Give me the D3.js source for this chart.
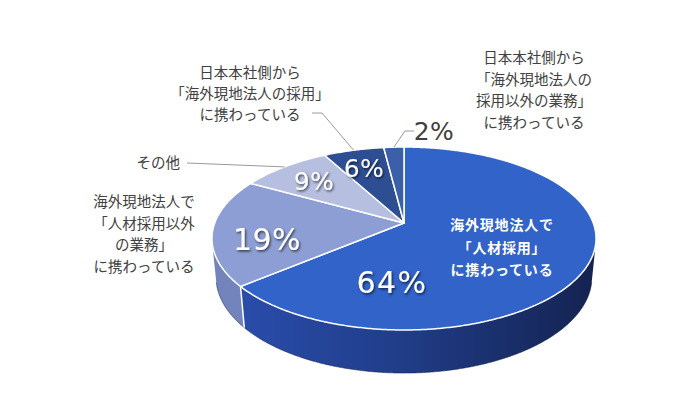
<!DOCTYPE html>
<html>
<head>
<meta charset="utf-8">
<script src="https://cdn.jsdelivr.net/npm/d3@7"></script>
<style>
  body { margin: 0; background: #fff; }
  svg { display: block; }
  .jp { font-family: "Noto Sans CJK JP", sans-serif; font-size: 14.5px; fill: #404040; }
  .pct { font-family: "DejaVu Sans", sans-serif; }
</style>
</head>
<body>
<div id="chart"></div>
<script>
// Data
const categories = [
  "海外現地法人で「人材採用」に携わっている",
  "海外現地法人で「人材採用以外の業務」に携わっている",
  "その他",
  "日本本社側から「海外現地法人の採用」に携わっている",
  "日本本社側から「海外現地法人の採用以外の業務」に携わっている"
];
const values = [64, 19, 9, 6, 2];
const pctLabels = ["64%", "19%", "9%", "6%", "2%"];

// Styles
const topColors = ["#3163c8", "#8c9ed3", "#b6bfdf", "#2d4e93", "#3b60a9"];
const sideColors = ["url(#side64)", "#7383bb", "#9aa5cc", "#22396e", "#2b4a85"];

const width = 700, height = 398;

// Perspective projection of the tilted pie
const cx = 404, cy = 223, f = 986, D = 5.21, h = 0.233;
const tilt = 28 * Math.PI / 180, s = Math.sin(tilt), c = Math.cos(tilt);
function proj(theta, r, depth) {
  const X = r * Math.sin(theta), Z = -r * Math.cos(theta), Y = -depth * h;
  const yc = Z * s - Y * c;
  const d = D - (Z * c + Y * s);
  return [cx + f * X / d, cy + f * yc / d];
}
// Wall faces the camera where cos(theta) < -1/(D*c)
const visLo = Math.acos(-1 / (D * c)), visHi = 2 * Math.PI - visLo;

function arcPts(a0, a1, depth) {
  const step = Math.PI / 360;
  const pts = d3.range(a0, a1, step).concat([a1]);
  return pts.map(t => proj(t, 1, depth));
}

const svg = d3.select("#chart").append("svg")
  .attr("width", width).attr("height", height);

const defs = svg.append("defs");
const g64 = defs.append("linearGradient").attr("id", "side64")
  .attr("gradientUnits", "userSpaceOnUse")
  .attr("x1", 240).attr("x2", 598).attr("y1", 0).attr("y2", 0);
g64.append("stop").attr("offset", 0).attr("stop-color", "#2a4cab");
g64.append("stop").attr("offset", 0.45).attr("stop-color", "#203d88");
g64.append("stop").attr("offset", 1).attr("stop-color", "#142250");

const shadow = defs.append("filter").attr("id", "shadow")
  .attr("x", "-20%").attr("y", "-20%").attr("width", "140%").attr("height", "140%");
shadow.append("feDropShadow").attr("dx", 1.2).attr("dy", 1.5)
  .attr("stdDeviation", 1).attr("flood-color", "#000").attr("flood-opacity", 0.65);

const pie = d3.pie().sort(null).value(d => d)(values);
const line = d3.line();

// Side walls
pie.forEach((p, i) => {
  const a0 = Math.max(p.startAngle, visLo), a1 = Math.min(p.endAngle, visHi);
  if (a1 <= a0) return;
  const pts = arcPts(a0, a1, 0).concat(arcPts(a0, a1, 1).reverse());
  svg.append("path")
    .attr("d", line(pts) + "Z")
    .attr("fill", sideColors[i]);
  svg.append("path")
    .attr("d", line(arcPts(a0, a1, 1)))
    .attr("fill", "none").attr("stroke", "#101a3e").attr("stroke-width", 1).attr("opacity", 0.5);
});
// Vertical white seams where slice borders cross the visible wall
pie.forEach(p => {
  const a = p.endAngle;
  if (a > visLo && a < visHi) {
    svg.append("path")
      .attr("d", line([proj(a, 1, 0), proj(a, 1, 1)]))
      .attr("stroke", "#fff").attr("stroke-width", 1.5).attr("fill", "none");
  }
});

// Top faces
pie.forEach((p, i) => {
  const pts = [proj(0, 0, 0)].concat(arcPts(p.startAngle, p.endAngle, 0));
  svg.append("path")
    .attr("d", line(pts) + "Z")
    .attr("fill", topColors[i])
    .attr("stroke", "#fff").attr("stroke-width", 1.5)
    .attr("stroke-linejoin", "round");
});

// Percent labels
const pctPos = [[392, 293, 30], [267, 250, 30], [314, 190, 25], [364, 177, 25], [434, 140, 25]];
pie.forEach((p, i) => {
  const [x, y, fs] = pctPos[i];
  const t = svg.append("text").attr("class", "pct")
    .attr("x", x).attr("y", y)
    .attr("text-anchor", "middle")
    .attr("font-size", fs)
    .attr("letter-spacing", i === 0 ? 1.5 : 0.5)
    .text(pctLabels[i]);
  if (i === 4) t.attr("fill", "#404040");
  else t.attr("fill", "#fff").attr("filter", "url(#shadow)");
});

// Leader lines from the rim of the slice middle
const leaders = [
  { i: 2, pts: [[187, 163]] },
  { i: 3, pts: [[322, 113], [312, 113]] },
  { i: 4, pts: [[405, 131], [414, 131]] }
];
leaders.forEach(l => {
  const p = pie[l.i];
  const mid = (p.startAngle + p.endAngle) / 2;
  svg.append("path")
    .attr("d", line([proj(mid, 1, 0)].concat(l.pts)))
    .attr("fill", "none").attr("stroke", "#9a9a9a").attr("stroke-width", 1);
});

// Category labels
function block(lines, x, y0, dy, anchor, cls) {
  const t = svg.append("text").attr("class", cls || "jp").attr("text-anchor", anchor);
  lines.forEach((ln, k) => {
    t.append("tspan").attr("x", x).attr("y", y0 + k * dy).text(ln);
  });
  return t;
}
block(["海外現地法人で", "「人材採用」", "に携わっている"], 502, 230, 22.5, "middle", "jp")
  .attr("fill", "#fff").style("fill", "#fff").attr("font-weight", "bold")
  .attr("font-size", 14).style("font-size", "14px").attr("letter-spacing", 0.8);
block(["海外現地法人で", "「人材採用以外", "の業務」", "に携わっている"], 144, 207, 21.7, "middle");
block(["その他"], 180, 168, 0, "end");
block(["日本本社側から", "「海外現地法人の採用」", "に携わっている"], 250, 78, 21, "middle");
block(["日本本社側から", "「海外現地法人の", "採用以外の業務」", "に携わっている"], 534, 63, 21.5, "middle");
</script>
</body>
</html>
